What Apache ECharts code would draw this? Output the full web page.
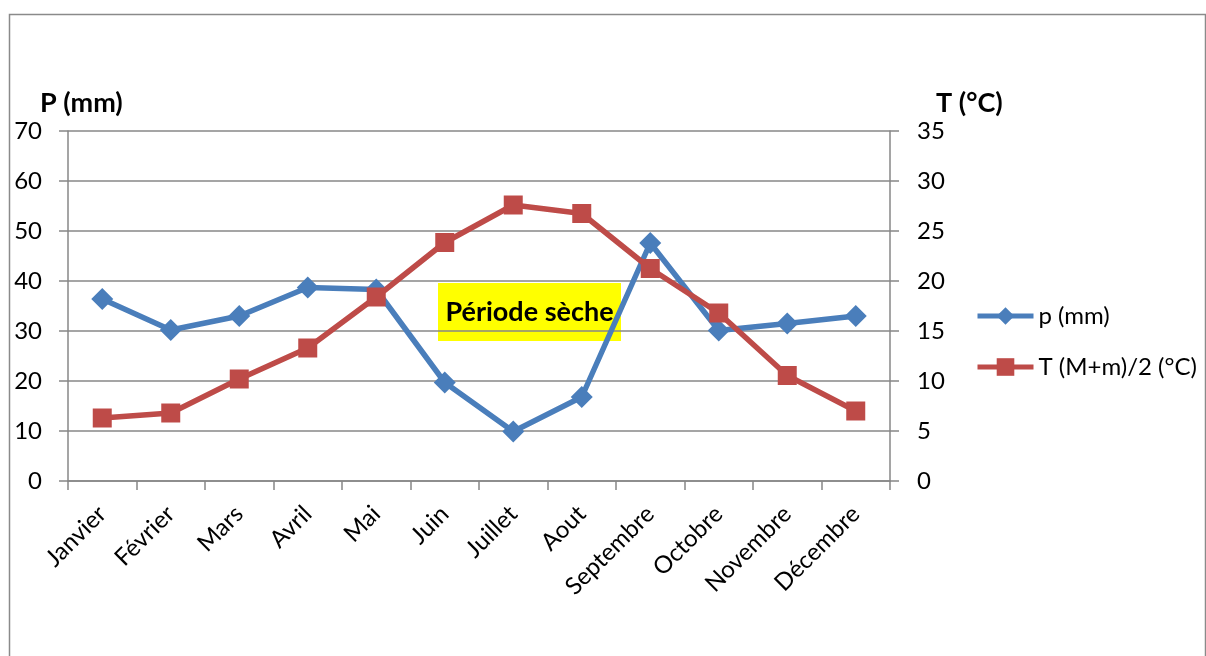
<!DOCTYPE html>
<html>
<head>
<meta charset="utf-8">
<script src="https://cdn.jsdelivr.net/npm/echarts@6/dist/echarts.min.js"></script>
<style>html,body{margin:0;padding:0;background:#fff;}#chart{width:1206px;height:656px;}</style>
</head>
<body>
<div id="chart"></div>
<script>
const months = ['Janvier','Février','Mars','Avril','Mai','Juin','Juillet','Aout','Septembre','Octobre','Novembre','Décembre'];
const precip = [36.4, 30.2, 33.0, 38.7, 38.3, 19.7, 9.9, 16.8, 47.6, 30.1, 31.5, 33.0];
const temp = [6.3, 6.8, 10.2, 13.3, 18.4, 23.85, 27.6, 26.75, 21.25, 16.8, 10.55, 7.0];
const leftTicks = {min: 0, max: 70, interval: 10};
const rightTicks = {min: 0, max: 35, interval: 5};
const seriesNames = ['p (mm)', 'T (M+m)/2 (°C)'];

const FONT = 'Lato, "Open Sans", sans-serif';
const gridColor = '#878787';
const chart = echarts.init(document.getElementById('chart'), null, {renderer: 'canvas'});
chart.setOption({
  animation: false,
  backgroundColor: '#fff',
  textStyle: {fontFamily: FONT},
  grid: {left: 68, right: 316, top: 131, bottom: 175, containLabel: false},
  legend: {
    orient: 'vertical', left: 970, top: 299, itemWidth: 56, itemHeight: 22, itemGap: 27,
    textStyle: {fontFamily: FONT, fontSize: 24, color: '#000'},
    lineStyle: {width: 5},
    data: seriesNames
  },
  xAxis: {
    type: 'category', data: months, boundaryGap: true,
    axisLine: {lineStyle: {color: gridColor, width: 1.5}},
    axisTick: {show: true, length: 9, lineStyle: {color: gridColor, width: 1.5}},
    axisLabel: {rotate: 45, fontSize: 24, color: '#000', fontFamily: FONT, margin: 29, interval: 0}
  },
  yAxis: [{
    type: 'value', min: leftTicks.min, max: leftTicks.max, interval: leftTicks.interval,
    name: 'P (mm)', nameLocation: 'end', nameGap: 14,
    nameTextStyle: {fontFamily: FONT, fontSize: 27, fontWeight: 'bold', color: '#000', align: 'left', padding: [0,0,0,-28]},
    axisLine: {show: true, lineStyle: {color: gridColor, width: 1.5}},
    axisTick: {show: true, length: 9, lineStyle: {color: gridColor, width: 1.5}},
    axisLabel: {fontSize: 24, color: '#000', fontFamily: FONT, margin: 26},
    splitLine: {show: true, lineStyle: {color: gridColor, width: 1.5}}
  }, {
    type: 'value', position: 'right', min: rightTicks.min, max: rightTicks.max, interval: rightTicks.interval,
    name: 'T (°C)', nameLocation: 'end', nameGap: 14,
    nameTextStyle: {fontFamily: FONT, fontSize: 27, fontWeight: 'bold', color: '#000', align: 'left', padding: [0,0,0,46]},
    axisLine: {show: true, lineStyle: {color: gridColor, width: 1.5}},
    axisTick: {show: true, length: 9, lineStyle: {color: gridColor, width: 1.5}},
    axisLabel: {fontSize: 24, color: '#000', fontFamily: FONT, margin: 27},
    splitLine: {show: false}
  }],
  series: [{
    name: seriesNames[0], type: 'line', yAxisIndex: 0, data: precip,
    symbol: 'diamond', symbolSize: [22, 22],
    lineStyle: {color: '#4A7EBB', width: 5.5},
    itemStyle: {color: '#4A7EBB'}, z: 3
  }, {
    name: seriesNames[1], type: 'line', yAxisIndex: 1, data: temp,
    symbol: 'rect', symbolSize: 19,
    lineStyle: {color: '#BE4B48', width: 5.5},
    itemStyle: {color: '#BE4B48'}, z: 4
  }],
  graphic: [{
    type: 'rect', left: 7, top: 12, silent: true,
    shape: {width: 1196, height: 700},
    style: {fill: 'none', stroke: '#8a8a8a', lineWidth: 1.5}
  }, {
    type: 'group', left: 438, top: 283, z: 100,
    children: [{
      type: 'rect', shape: {x: 0, y: 0, width: 183, height: 58}, style: {fill: '#FFFF00'}
    }, {
      type: 'text', x: 91.5, y: 29,
      style: {text: 'Période sèche', fontFamily: FONT, fontSize: 27, fontWeight: 'bold', fill: '#000', align: 'center', verticalAlign: 'middle'}
    }]
  }]
});
</script>
</body>
</html>
